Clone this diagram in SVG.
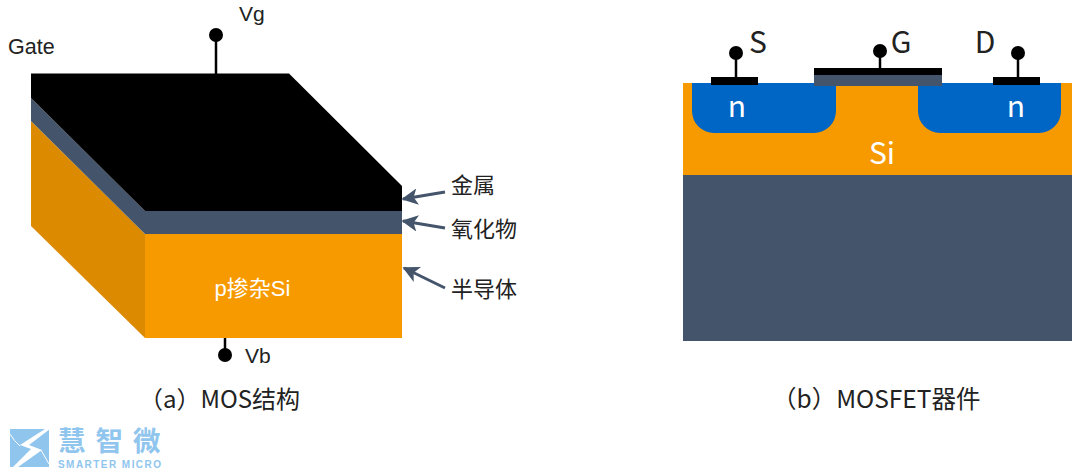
<svg xmlns="http://www.w3.org/2000/svg" width="1080" height="476" viewBox="0 0 1080 476">
<style>
.ar{font-family:"Liberation Sans",Arial,sans-serif}
.cn{font-family:"Noto Sans CJK SC","Noto Sans",sans-serif}
.d{fill:#222}
.w{fill:#fff}
.lead{stroke:#000;stroke-width:2.5;fill:none}
.arrow{stroke:#44546a;stroke-width:3;fill:none;marker-end:url(#ah)}
</style>
<defs>
<marker id="ah" viewBox="0 0 10 10" refX="9" refY="5" markerWidth="5.5" markerHeight="5.5" orient="auto"><path d="M0 0L10 5L0 10L2.5 5Z" fill="#44546a"/></marker>
</defs>
<rect width="1080" height="476" fill="#fff"/>
<g id="mos-structure">
<polygon points="31,121 145,234 145,338 31,226" fill="#dc8a00"/>
<polygon points="31,98 145,211 145,234 31,121" fill="#44546a"/>
<rect x="145" y="233.500" width="257" height="104.500" fill="#f79a00"/>
<rect x="145" y="211" width="257" height="23" fill="#44546a"/>
<polygon points="31,73.500 289,73.500 402,186 402,211 145,211 31,98" fill="#000"/>
<text class="ar w" x="252.500" y="296" font-size="22" text-anchor="middle">p<tspan class="cn">掺杂</tspan>Si</text>
</g>
<g id="terminal-vg">
<circle cx="216" cy="35" r="7" fill="#000"/>
<path class="lead" d="M216 35V74"/>
<text class="ar d" x="239" y="21" font-size="21">Vg</text>
</g>
<g id="terminal-vb">
<circle cx="225" cy="355" r="7" fill="#000"/>
<path class="lead" d="M225 338V355"/>
<text class="ar d" x="245" y="363" font-size="21">Vb</text>
</g>
<text id="label-gate" class="ar d" x="8" y="54" font-size="21.500">Gate</text>
<g id="connectors">
<path class="arrow" d="M445 192L403 199"/>
<path class="arrow" d="M445 228L403 221"/>
<path class="arrow" d="M445 288L404 268"/>
</g>
<g id="labels-layers" class="cn d" font-size="22">
<text x="451" y="192.500">金属</text>
<text x="451" y="237">氧化物</text>
<text x="451" y="297">半导体</text>
</g>
<text id="caption-a" class="cn d" x="139" y="408" font-size="24">（a）MOS结构</text>
<g id="mosfet">
<rect x="683" y="175" width="389" height="166" fill="#44546a"/>
<rect x="683" y="83" width="389" height="92" fill="#f79a00"/>
<path d="M692 83H836V111A22 22 0 0 1 814 133H714A22 22 0 0 1 692 111Z" fill="#0066c6"/>
<path d="M918 83H1061V111A22 22 0 0 1 1039 133H940A22 22 0 0 1 918 111Z" fill="#0066c6"/>
<text class="cn w" x="737" y="117" font-size="30" text-anchor="middle">n</text>
<text class="cn w" x="1016" y="117" font-size="30" text-anchor="middle">n</text>
<text class="cn w" x="882" y="164" font-size="30" text-anchor="middle">Si</text>
</g>
<g id="terminal-s">
<rect x="711" y="77" width="47" height="8" fill="#000"/>
<path class="lead" d="M736 53V77"/>
<circle cx="736" cy="53" r="7" fill="#000"/>
<text class="cn d" x="758" y="53" font-size="30" text-anchor="middle">S</text>
</g>
<g id="terminal-g">
<rect x="814" y="75" width="128" height="11" fill="#44546a"/>
<rect x="814" y="68" width="128" height="7" fill="#000"/>
<path class="lead" d="M880 51V68"/>
<circle cx="880" cy="51" r="7" fill="#000"/>
<text class="cn d" x="901" y="53" font-size="30" text-anchor="middle">G</text>
</g>
<g id="terminal-d">
<rect x="993" y="77" width="47" height="8" fill="#000"/>
<path class="lead" d="M1018 53V77"/>
<circle cx="1018" cy="53" r="7" fill="#000"/>
<text class="cn d" x="985" y="53" font-size="30" text-anchor="middle">D</text>
</g>
<text id="caption-b" class="cn d" x="772" y="408" font-size="24.500">（b）MOSFET器件</text>
<g id="watermark">
<rect x="10" y="429" width="39" height="38" fill="#90c5ee"/>
<polygon points="45,429 20,445 31,449 13,467 18,467 42,450 29,445 50,429" fill="#fff"/>
<path d="M10 434Q14 441 20 446M41 450Q45 457 49 464" stroke="#fff" stroke-width="1" fill="none"/>
<text class="cn" x="58" y="450.500" font-size="27.500" font-weight="700" fill="#90c5ee" letter-spacing="10">慧智微</text>
<text class="ar" x="58" y="468" font-size="10" font-weight="700" fill="#90c5ee" textLength="103">SMARTER MICRO</text>
</g>
</svg>
